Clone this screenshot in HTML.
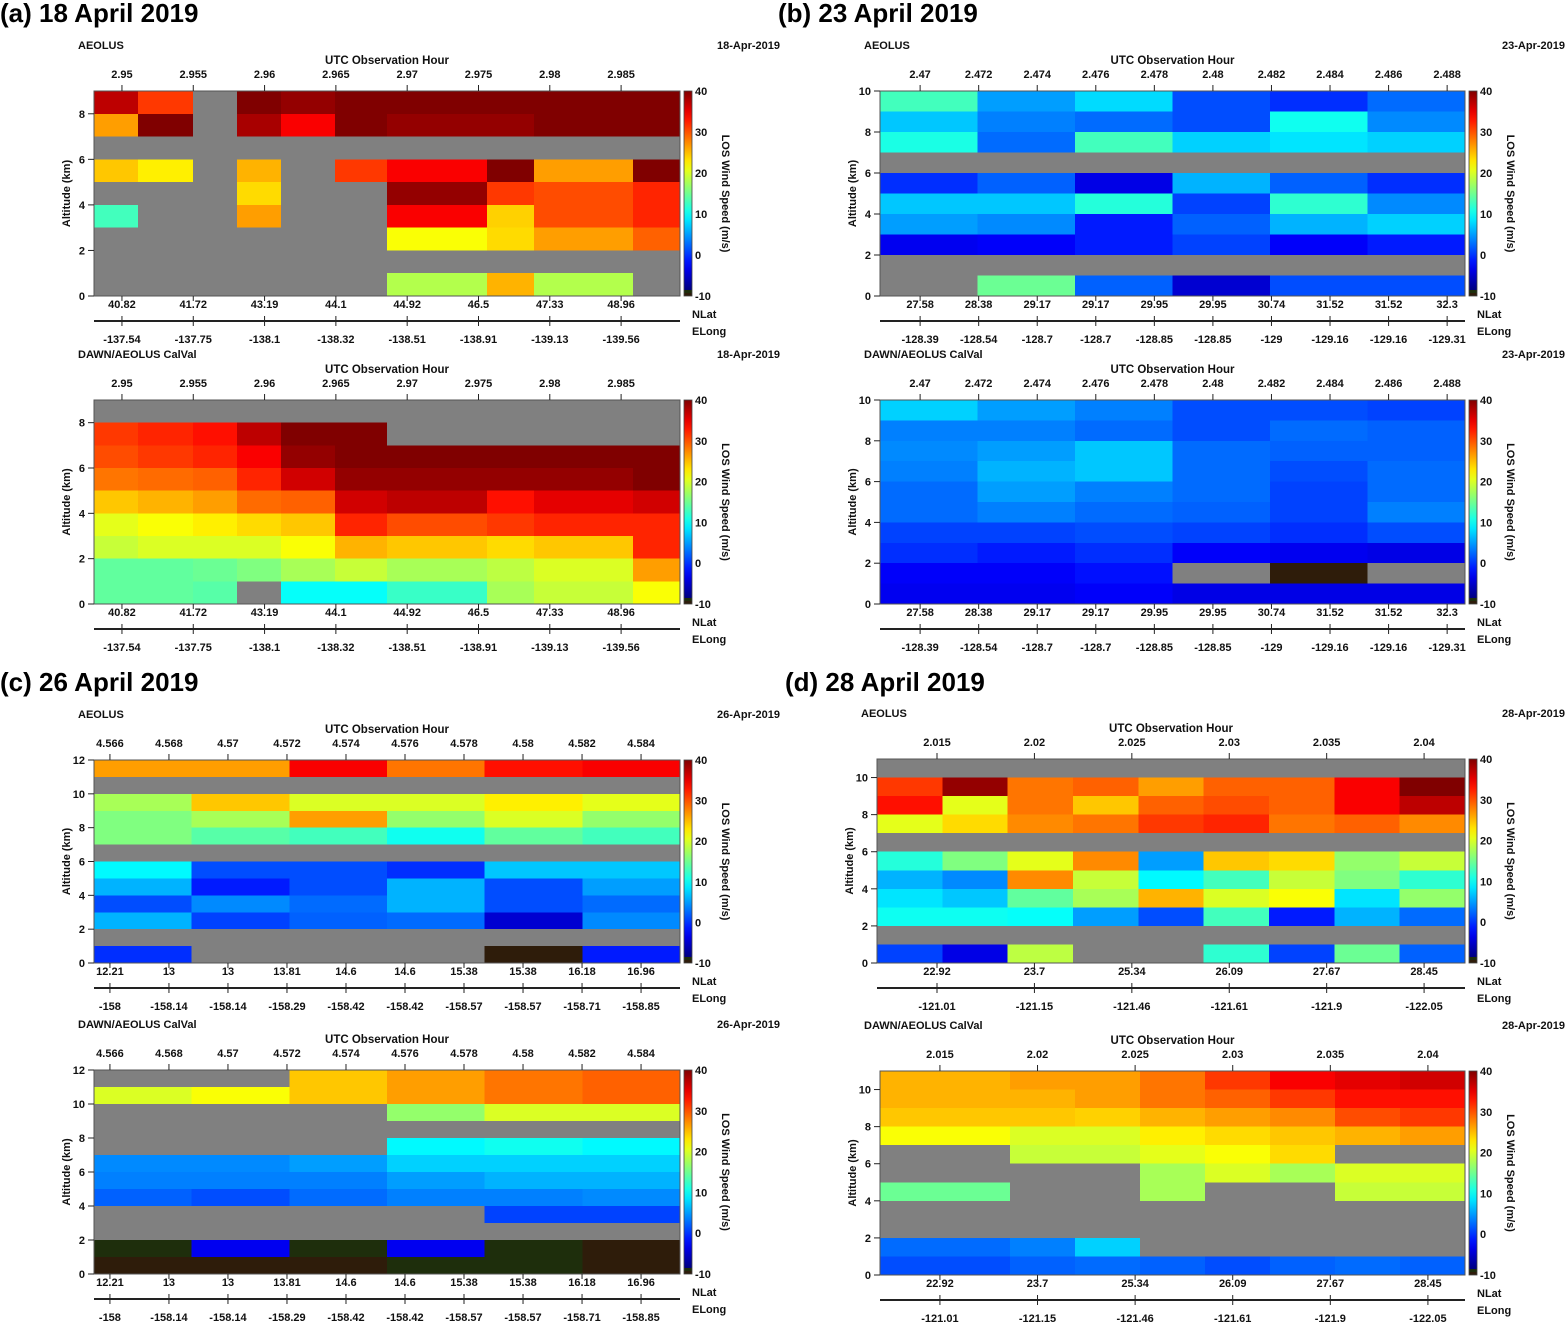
<!DOCTYPE html>
<html><head><meta charset="utf-8">
<style>
html,body{margin:0;padding:0;background:#fff;}
svg{display:block;font-family:"Liberation Sans",Arial,sans-serif;}
</style></head>
<body>
<svg id="fig" width="1565" height="1325" viewBox="0 0 1565 1325" xmlns="http://www.w3.org/2000/svg">
<text x="0" y="22" font-size="26" font-weight="bold">(a) 18 April 2019</text>
<text x="778" y="22" font-size="26" font-weight="bold">(b) 23 April 2019</text>
<text x="0" y="691" font-size="26" font-weight="bold">(c) 26 April 2019</text>
<text x="785" y="691" font-size="26" font-weight="bold">(d) 28 April 2019</text>
</svg>
<script>
// ---------- data ----------
const aUtcTicks=[2.95,2.955,2.96,2.965,2.97,2.975,2.98,2.985];
const aLatTicks=["40.82","41.72","43.19","44.1","44.92","46.5","47.33","48.96"];
const aLonTicks=["-137.54","-137.75","-138.1","-138.32","-138.51","-138.91","-139.13","-139.56"];
const aColEdges=[2.94804,2.95112,2.95498,2.95806,2.96115,2.96494,2.96858,2.97560,2.97889,2.98584,2.98913];
const aTopGrid=[
[37,31,null,40,39,40,40,40,40,40],
[26,40,null,38,34,40,39,39,40,40],
[null,null,null,null,null,null,null,null,null,null],
[24,22,null,25,null,31,34,40,26,40],
[null,null,null,23,null,null,39,31,30,32],
[12,null,null,26,null,null,34,23.5,30,32],
[null,null,null,null,null,null,21,23,26,29],
[null,null,null,null,null,null,null,null,null,null],
[null,null,null,null,null,null,17.5,25,17.5,null]];
const aBotGrid=[
[null,null,null,null,null,null,null,null,null,null],
[31,32,33,37,40,40,null,null,null,null],
[30,31,32,34,39,40,40,40,40,40],
[28,28.5,29,32,36,39,39,39,39,40],
[24,25,26,28.5,29,36,37,33,35,36],
[20,21,22,23,24,32,30,31,32,32],
[18.5,19.5,19.5,19.5,21,25,24,23,24,32],
[13.5,13.5,14,15,17,18.5,17,18,19.5,26],
[13.5,13.5,13,null,9,9,11.5,17,18.5,21]];

const bUtcTicks=[2.47,2.472,2.474,2.476,2.478,2.48,2.482,2.484,2.486,2.488];
const bLatTicks=["27.58","28.38","29.17","29.17","29.95","29.95","30.74","31.52","31.52","32.3"];
const bLonTicks=["-128.39","-128.54","-128.7","-128.7","-128.85","-128.85","-129","-129.16","-129.16","-129.31"];
const bTopGrid=[
[12,4,7,0,-1.5,1.5],
[6,2.5,1.5,0,9.5,3],
[10,1.5,12,6.5,7.5,6.5],
[null,null,null,null,null,null],
[-1.5,1,-5,5,1,-1.5],
[6,6,10.5,-0.5,11,3],
[4,3,-2.5,1,5,6.5],
[-4.5,-4,-2.5,-0.5,-4,-2.5],
[null,null,null,null,null,null],
[null,14,1,-6,0,0]];
const bBotGrid=[
[6.5,4,2.5,0,0,-0.5],
[2.5,2.5,1.5,0,1.5,1],
[3,4,6,1.5,1,1],
[2.5,5,6,1.5,0,1.5],
[1.5,4,2.5,1.5,-0.5,1.5],
[1.5,2.5,1.5,1,-0.5,2.5],
[-0.5,-0.5,0,-0.5,-1.5,0],
[-1.5,-2.5,-1.5,-4,-4.5,-5],
[-4,-4,-3,null,-20,null],
[-4.5,-4.5,-4,-5,-5,-5]];

const cUtcTicks=[4.566,4.568,4.57,4.572,4.574,4.576,4.578,4.58,4.582,4.584];
const cLatTicks=["12.21","13","13","13.81","14.6","14.6","15.38","15.38","16.18","16.96"];
const cLonTicks=["-158","-158.14","-158.14","-158.29","-158.42","-158.42","-158.57","-158.57","-158.71","-158.85"];
const cTopGrid=[
[26,26,34,28,33,34],
[null,null,null,null,null,null],
[17,24,19.5,19.5,22,20],
[15,17,26,16,19.5,16],
[15,13,12,9.5,13.5,12],
[null,null,null,null,null,null],
[8.5,0,0,-1.5,6,6],
[5,-2.5,0,5,0,4],
[0,3,1.5,5,0,1.5],
[5,-0.5,1,1.5,-6,3],
[null,null,null,null,null,null],
[-1.5,null,null,null,-20,-2.5]];
const cBotGrid=[
[null,null,24,26,28,29],
[19.5,21,24,26,28,29],
[null,null,null,16,19.5,19.5],
[null,null,null,null,null,null],
[null,null,null,8.5,9.5,8.5],
[3,3,4,6.5,6.5,6.5],
[2.5,2.5,2.5,4,5,5],
[1,0,1.5,2.5,2.5,3],
[null,null,null,null,-0.5,-0.5],
[null,null,null,null,null,null],
[-15,-4.5,-15,-4.5,-15,-20],
[-20,-20,-20,-15,-15,-20]];

const dUtcTicks=[2.015,2.02,2.025,2.03,2.035,2.04];
const dLatTicks=["22.92","23.7","25.34","26.09","27.67","28.45"];
const dLonTicks=["-121.01","-121.15","-121.46","-121.61","-121.9","-122.05"];
const dTopGrid=[
[null,null,null,null,null,null,null,null,null],
[31,39,28,29,26,29,29,34,40],
[33,20,28,24,29,30,29,34,37],
[20,23,27,28,31,32,28,29,27],
[null,null,null,null,null,null,null,null,null],
[10.5,15,20,27,4,24,23,16,18.5],
[5,3,27,18.5,8.5,12,18.5,15,11],
[7.5,6,13.5,17,25,19.5,21,7.5,16],
[9.4,9.4,9,4,0,12,-2.5,5,1.5],
[null,null,null,null,null,null,null,null,null],
[-0.5,-5,18,null,null,11,-0.5,14,1]];
const dBotGrid=[
[25,25,26,26,28,31,34,35,36],
[25,25,25,26,28,29,31,33,33],
[24,24,24,23.5,25,26,27,30,31],
[21,21,19.5,19.5,22,23,24,25,26],
[null,null,18.5,18.5,20,21,23,null,null],
[null,null,null,null,17,19.5,17,19.5,19.5],
[14,14,null,null,17,null,null,18.5,18.5],
[null,null,null,null,null,null,null,null,null],
[null,null,null,null,null,null,null,null,null],
[1.5,1.5,2.5,6.5,null,null,null,null,null],
[0,0,1,1.5,1,0,1,1.5,1]];

const cbTicks=[40,30,20,10,0,-10];

// ---------- rendering ----------
const NS="http://www.w3.org/2000/svg";
const svg=document.getElementById('fig');
function mk(tag,attrs,parent){const e=document.createElementNS(NS,tag);for(const k in attrs)e.setAttribute(k,attrs[k]);(parent||svg).appendChild(e);return e;}
function clamp(v){return Math.max(0,Math.min(1,v));}
function jet(v){
  if(v===null)return '#808080';
  if(v<=-20)return '#2e1c0a';
  if(v<-10)return '#1e2e0c';
  const t=(v+10)/50;
  const r=clamp(1.5-Math.abs(4*t-3)),g=clamp(1.5-Math.abs(4*t-2)),b=clamp(1.5-Math.abs(4*t-1));
  return 'rgb('+Math.round(r*255)+','+Math.round(g*255)+','+Math.round(b*255)+')';
}
function txt(x,y,s,opts,parent){
  const t=mk('text',Object.assign({x:x,y:y,'font-size':11,'font-weight':'bold',fill:'#111'},opts||{}),parent);
  t.textContent=s;return t;
}
let gid=0;
function panel(p){
  const g=mk('g',{});
  
  
  const xs=u=>p.L+(u-p.dom[0])/(p.dom[1]-p.dom[0])*(p.R-p.L);
  const ys=a=>p.B-a/p.ymax*(p.B-p.T);
  const ncol=p.grid[0].length;
  const edges=p.edges||Array.from({length:ncol+1},(_,i)=>p.dom[0]+i*(p.dom[1]-p.dom[0])/ncol);
  mk('rect',{x:p.L,y:p.T,width:p.R-p.L,height:p.B-p.T,fill:'#808080'},g);
  p.grid.forEach((row,i)=>{
    const hi=p.ymax-i,lo=hi-1;
    row.forEach((v,j)=>{
      const x0=xs(edges[j]),x1=xs(edges[j+1]);
      const r=mk('rect',{x:x0,y:ys(hi),width:x1-x0+0.6,height:ys(lo)-ys(hi)+0.6,fill:jet(v),'shape-rendering':'crispEdges'},g);
      
      
    });
  });
  mk('rect',{x:p.L,y:p.T,width:p.R-p.L,height:p.B-p.T,fill:'none',stroke:'#555','stroke-width':1},g);
  // header texts
  const h1=txt(p.L-16,p.T-42,p.label,{},g);
  
  
  const h2=txt(p.R+100,p.T-42,p.date,{'text-anchor':'end'},g);
  
  
  const h3=txt((p.L+p.R)/2,p.T-27,'UTC Observation Hour',{'text-anchor':'middle','font-size':11.5},g);
  
  
  // top ticks + bottom lat/lon
  mk('line',{x1:p.L,y1:p.B+25,x2:p.R,y2:p.B+25,stroke:'#222','stroke-width':2},g);
  p.utc.forEach((u,i)=>{
    const x=xs(u);
    mk('line',{x1:x,y1:p.T-6,x2:x,y2:p.T,stroke:'#222','stroke-width':1},g);
    const t=txt(x,p.T-13,String(u),{'text-anchor':'middle'},g);
    
    
    mk('line',{x1:x,y1:p.B,x2:x,y2:p.B+5,stroke:'#222','stroke-width':1},g);
    const t2=txt(x,p.B+12,p.lat[i],{'text-anchor':'middle'},g);
    
    
    mk('line',{x1:x,y1:p.B+20,x2:x,y2:p.B+30,stroke:'#222','stroke-width':1},g);
    const t3=txt(x,p.B+47,p.lon[i],{'text-anchor':'middle'},g);
    
    
  });
  const n1=txt(p.R+12,p.B+22,'NLat',{},g);
  
  
  const n2=txt(p.R+12,p.B+39,'ELong',{},g);
  
  
  // y axis
  for(let a=0;a<=p.ymax;a+=2){
    const y=ys(a);
    mk('line',{x1:p.L-6,y1:y,x2:p.L,y2:y,stroke:'#222','stroke-width':1},g);
    const t=txt(p.L-9,y+4,String(a),{'text-anchor':'end'},g);
    
    
  }
  const yt=txt(0,0,'Altitude (km)',{'text-anchor':'middle',transform:'translate('+(p.L-24)+','+((p.T+p.B)/2)+') rotate(-90)'},g);
  
  
  // colorbar
  const id='cbg'+(gid++);
  const defs=mk('defs',{},g);
  const lg=mk('linearGradient',{id:id,x1:0,y1:1,x2:0,y2:0},defs);
  for(let k=0;k<=20;k++){const v=-10+k*2.5;mk('stop',{offset:k/20,'stop-color':jet(v)},lg);}
  const cx=p.R+4,cw=8;
  const cbH=p.B-p.T-6;
  const cb=mk('rect',{x:cx,y:p.T,width:cw,height:cbH,fill:'url(#'+id+')'},g);
  
  
  mk('rect',{x:cx,y:p.T+cbH,width:cw,height:3,fill:jet(-15)},g);
  mk('rect',{x:cx,y:p.T+cbH+3,width:cw,height:3,fill:jet(-20)},g);
  mk('rect',{x:cx,y:p.T,width:cw,height:p.B-p.T,fill:'none',stroke:'#444','stroke-width':0.8},g);
  cbTicks.forEach(v=>{
    const y=p.B-(v+10)/50*(p.B-p.T);
    const t=txt(p.R+15,y+4,String(v),{},g);
    
    
  });
  const ct=txt(0,0,'LOS Wind Speed  (m/s)',{'text-anchor':'middle',transform:'translate('+(p.R+42)+','+((p.T+p.B)/2)+') rotate(90)'},g);
  
  
}
const panels=[
 {name:'panel-a-aeolus',label:'AEOLUS',date:'18-Apr-2019',L:94,R:680,T:91,B:296,ymax:9,dom:[2.94804,2.98913],edges:aColEdges,grid:aTopGrid,utc:aUtcTicks,lat:aLatTicks,lon:aLonTicks},
 {name:'panel-a-calval',label:'DAWN/AEOLUS CalVal',date:'18-Apr-2019',L:94,R:680,T:400,B:604,ymax:9,dom:[2.94804,2.98913],edges:aColEdges,grid:aBotGrid,utc:aUtcTicks,lat:aLatTicks,lon:aLonTicks},
 {name:'panel-b-aeolus',label:'AEOLUS',date:'23-Apr-2019',L:880,R:1465,T:91,B:296,ymax:10,dom:[2.46863,2.48861],grid:bTopGrid,utc:bUtcTicks,lat:bLatTicks,lon:bLonTicks},
 {name:'panel-b-calval',label:'DAWN/AEOLUS CalVal',date:'23-Apr-2019',L:880,R:1465,T:400,B:604,ymax:10,dom:[2.46863,2.48861],grid:bBotGrid,utc:bUtcTicks,lat:bLatTicks,lon:bLonTicks},
 {name:'panel-c-aeolus',label:'AEOLUS',date:'26-Apr-2019',L:94,R:680,T:760,B:963,ymax:12,dom:[4.56546,4.58532],grid:cTopGrid,utc:cUtcTicks,lat:cLatTicks,lon:cLonTicks},
 {name:'panel-c-calval',label:'DAWN/AEOLUS CalVal',date:'26-Apr-2019',L:94,R:680,T:1070,B:1274,ymax:12,dom:[4.56546,4.58532],grid:cBotGrid,utc:cUtcTicks,lat:cLatTicks,lon:cLonTicks},
 {name:'panel-d-aeolus',label:'AEOLUS',date:'28-Apr-2019',L:877,R:1465,T:759,B:963,ymax:11,dom:[2.01192,2.0421],grid:dTopGrid,utc:dUtcTicks,lat:dLatTicks,lon:dLonTicks},
 {name:'panel-d-calval',label:'DAWN/AEOLUS CalVal',date:'28-Apr-2019',L:880,R:1465,T:1071,B:1275,ymax:11,dom:[2.01193,2.0419],grid:dBotGrid,utc:dUtcTicks,lat:dLatTicks,lon:dLonTicks}
];
panels.forEach(panel);
</script>
</body></html>
